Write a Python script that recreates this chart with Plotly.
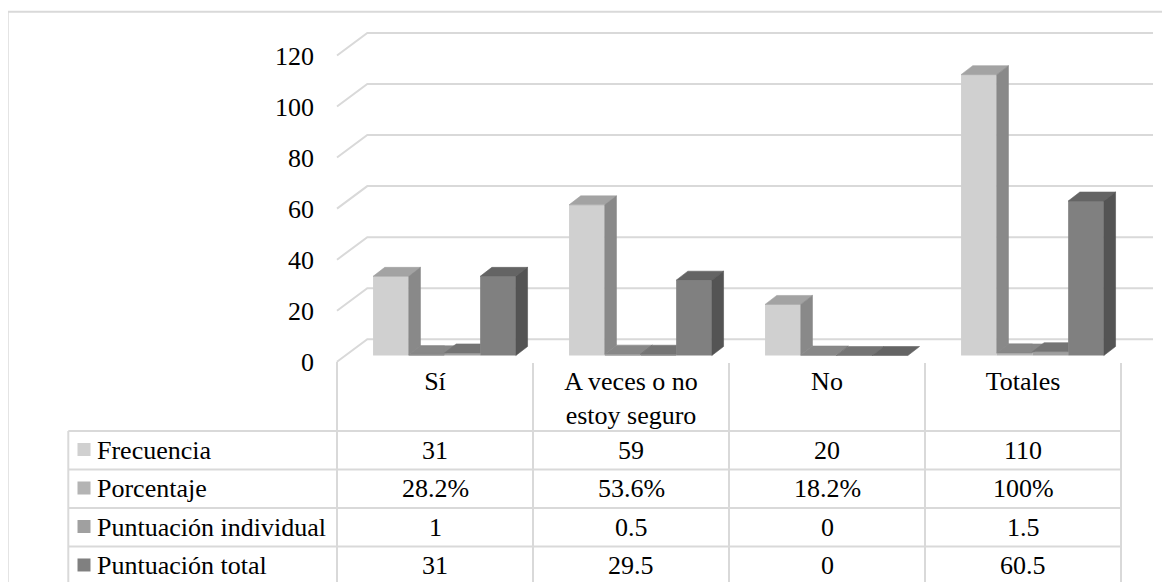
import plotly.graph_objects as go

# ---------------- data ----------------
categories = ["Sí", "A veces o no estoy seguro", "No", "Totales"]
series_names = ["Frecuencia", "Porcentaje", "Puntuación individual", "Puntuación total"]
frecuencia = [31, 59, 20, 110]
porcentaje = [0.282, 0.536, 0.182, 1.0]
puntuacion_individual = [1, 0.5, 0, 1.5]
puntuacion_total = [31, 29.5, 0, 60.5]
y_tick_values = [0, 20, 40, 60, 80, 100, 120]

series_values = [frecuencia, porcentaje, puntuacion_individual, puntuacion_total]
series_formats = ["num", "pct", "num", "num"]

# ---------------- style ----------------
FRONT = ["#d0d0d0", "#b4b4b4", "#a0a0a0", "#808080"]
TOP = ["#a3a3a3", "#888888", "#747474", "#646464"]
SIDE = ["#898989", "#777777", "#686868", "#545454"]
GRID = "#d9d9d9"
FONT = dict(family="Liberation Serif", size=26, color="#000000")

W, H = 1170, 582
OFF = 8.0               # page margin around the figure
CAT_PX = 196.0          # width of one category
CAT0_PX = 337.0         # left edge of first category (page px)
UNIT_PX = 2.553         # pixels per value unit
BASE_PX = 355.5         # bar baseline (page px)
ROW_TOP_PX = 431.0      # first table row line (page px)
ROW_PX = 38.5           # table row height
HEADER_TOP_PX = 361.5

x_min = -0.5 - (CAT0_PX - OFF) / CAT_PX
x_max = x_min + W / CAT_PX
y_min = -(H - (BASE_PX - OFF)) / UNIT_PX
y_max = y_min + H / UNIT_PX
FRONT_SHIFT = 6.3       # px the front floor sits below the bar base
BACK_SHIFT = 16.2       # px the back wall sits above the bar base
y2_min = -(H - (BASE_PX + FRONT_SHIFT - OFF)) / UNIT_PX
y2_max = y2_min + H / UNIT_PX


def px_to_x(px):
    return x_min + (px - OFF) / CAT_PX


def px_to_u(py):
    return (py - ROW_TOP_PX) / ROW_PX


BAR_W = 35.7 / CAT_PX
BAR_OFF0 = -0.316
DEPTH_X = 11.7 / CAT_PX
DEPTH_Y = 9.0 / UNIT_PX
WALL_X = 30.3 / CAT_PX


def wrap(text, width=12):
    lines, cur = [], ""
    for w in text.split():
        if cur and len(cur) + 1 + len(w) > width:
            lines.append(cur)
            cur = w
        else:
            cur = (cur + " " + w).strip()
    lines.append(cur)
    return "<br>".join(lines)


def fmt(v, kind):
    if kind == "pct":
        s = f"{v * 100:.1f}"
        if s.endswith(".0"):
            s = s[:-2]
        return s + "%"
    return f"{v:g}"


def clip_half(poly, axis, c, keep_le):
    def ins(p):
        return p[axis] <= c + 1e-12 if keep_le else p[axis] >= c - 1e-12

    def inter(p, q):
        t = (c - p[axis]) / (q[axis] - p[axis])
        return (p[0] + t * (q[0] - p[0]), p[1] + t * (q[1] - p[1]))

    out = []
    n = len(poly)
    for i in range(n):
        cur, prev = poly[i], poly[i - 1]
        if ins(cur):
            if not ins(prev):
                out.append(inter(prev, cur))
            out.append(cur)
        elif ins(prev):
            out.append(inter(prev, cur))
    return out


def area(poly):
    if len(poly) < 3:
        return 0.0
    s = 0.0
    for i in range(len(poly)):
        x1, y1 = poly[i - 1]
        x2, y2 = poly[i]
        s += x1 * y2 - x2 * y1
    return abs(s) / 2


fig = go.Figure()

# front faces of the columns
cat_idx = list(range(len(categories)))
for k, (name, vals) in enumerate(zip(series_names, series_values)):
    fig.add_trace(go.Bar(
        x=cat_idx, y=vals, width=BAR_W, offset=BAR_OFF0 + k * BAR_W,
        marker=dict(color=FRONT[k], line=dict(width=0)), name=name,
        showlegend=False, xaxis="x", yaxis="y",
        hovertemplate=name + ": %{y}<extra></extra>",
    ))

# 3-D top and side faces
for k, vals in enumerate(series_values):
    tx, ty, sx, sy = [], [], [], []
    for i in cat_idx:
        v = vals[i]
        x0 = i + BAR_OFF0 + k * BAR_W
        x1 = x0 + BAR_W
        nxt = series_values[k + 1][i] if k + 1 < len(series_values) else None
        top = [(x0, v), (x1, v), (x1 + DEPTH_X, v + DEPTH_Y), (x0 + DEPTH_X, v + DEPTH_Y)]
        if nxt is not None and nxt > v:
            pieces = [clip_half(top, 0, x1, True), clip_half(top, 1, nxt, False)]
        else:
            pieces = [top]
        for p in pieces:
            if area(p) > 1e-9:
                tx += [q[0] for q in p] + [p[0][0], None]
                ty += [q[1] for q in p] + [p[0][1], None]
        h0 = nxt if nxt is not None else 0
        h0 = max(h0, 0)
        if v > h0:
            side = [(x1, h0), (x1 + DEPTH_X, h0 + DEPTH_Y), (x1 + DEPTH_X, v + DEPTH_Y), (x1, v)]
            sx += [q[0] for q in side] + [side[0][0], None]
            sy += [q[1] for q in side] + [side[0][1], None]
    for xs, ys, col in ((tx, ty, TOP[k]), (sx, sy, SIDE[k])):
        if xs:
            fig.add_trace(go.Scatter(
                x=xs, y=ys, mode="lines", fill="toself", fillcolor=col,
                line=dict(color=col, width=0.6), hoverinfo="skip",
                showlegend=False, xaxis="x", yaxis="y",
            ))

# invisible trace carrying the value axis labels
fig.add_trace(go.Scatter(x=[-0.5] * len(y_tick_values), y=y_tick_values, mode="markers",
                         marker=dict(opacity=0), hoverinfo="skip", showlegend=False,
                         xaxis="x", yaxis="y2"))

# legend keys inside the data table
swatch_x = px_to_x(84)
fig.add_trace(go.Scatter(
    x=[swatch_x] * len(series_names), y=[r + 0.48 for r in range(len(series_names))],
    mode="markers", marker=dict(symbol="square", size=13, color=FRONT, line=dict(width=0)),
    hoverinfo="skip", showlegend=False, xaxis="x", yaxis="y3",
))

shapes = []
# perspective gridlines (floor edge diagonal + back wall)
for v in y_tick_values:
    yf = v - FRONT_SHIFT / UNIT_PX
    yb = v + BACK_SHIFT / UNIT_PX
    xa, xb, xc = -0.5, -0.5 + WALL_X, px_to_x(1153)
    shapes.append(dict(type="path", xref="x", yref="y", layer="below",
                       path=f"M {xa},{yf} L {xb},{yb} L {xc},{yb}",
                       line=dict(color=GRID, width=2)))

# data table lines
table_left = px_to_x(68.3)
n_rows = len(series_names)
for r in range(n_rows + 1):
    shapes.append(dict(type="line", xref="x", yref="y3", x0=table_left, x1=len(categories) - 0.5,
                       y0=r, y1=r, line=dict(color=GRID, width=2)))
shapes.append(dict(type="line", xref="x", yref="y3", x0=table_left, x1=table_left,
                   y0=0, y1=n_rows, line=dict(color=GRID, width=2)))
for j in range(len(categories) + 1):
    xv = j - 0.5
    top_u = px_to_u(361.7) if j == 0 else px_to_u(363)
    shapes.append(dict(type="line", xref="x", yref="y3", x0=xv, x1=xv,
                       y0=top_u, y1=n_rows, line=dict(color=GRID, width=2)))

# outer chart border
shapes.append(dict(type="rect", xref="paper", yref="paper", x0=(7.7 - OFF) / W, x1=1.2,
                   y0=-0.2, y1=1 - (11.7 - OFF) / H, line=dict(color=GRID, width=2),
                   fillcolor="rgba(0,0,0,0)"))

annotations = []
label_x = px_to_x(94.5)
for r, (name, vals, kind) in enumerate(zip(series_names, series_values, series_formats)):
    annotations.append(dict(x=label_x, y=r + 0.5, xref="x", yref="y3", text=name,
                            showarrow=False, xanchor="left", yanchor="middle", font=FONT))
    for i in cat_idx:
        annotations.append(dict(x=i, y=r + 0.5, xref="x", yref="y3", text=fmt(vals[i], kind),
                                showarrow=False, xanchor="center", yanchor="middle", font=FONT))

fig.update_layout(
    width=W, height=H, margin=dict(l=0, r=0, t=0, b=0),
    paper_bgcolor="white", plot_bgcolor="rgba(0,0,0,0)",
    barmode="overlay", showlegend=False, font=FONT,
    xaxis=dict(domain=[0, 1], range=[x_min, x_max], anchor="free", position=1 - (363 - OFF) / H,
               tickmode="array", tickvals=cat_idx, ticktext=[wrap(c) for c in categories],
               ticks="", showgrid=False, zeroline=False, showline=False, tickfont=FONT,
               ticklabelstandoff=0),
    yaxis=dict(domain=[0, 1], range=[y_min, y_max], visible=False, anchor="x"),
    yaxis2=dict(overlaying="y", anchor="free", position=(CAT0_PX - OFF) / W, side="left",
                range=[y2_min, y2_max], tickmode="array", tickvals=y_tick_values,
                ticks="", showgrid=False, zeroline=False, showline=False, tickfont=FONT,
                ticklabelstandoff=23),
    yaxis3=dict(domain=[0, (H - (HEADER_TOP_PX - OFF)) / H],
                range=[px_to_u(H + OFF), px_to_u(HEADER_TOP_PX)],
                visible=False, anchor="x"),
    shapes=shapes, annotations=annotations,
)

fig.write_html("out.html")
